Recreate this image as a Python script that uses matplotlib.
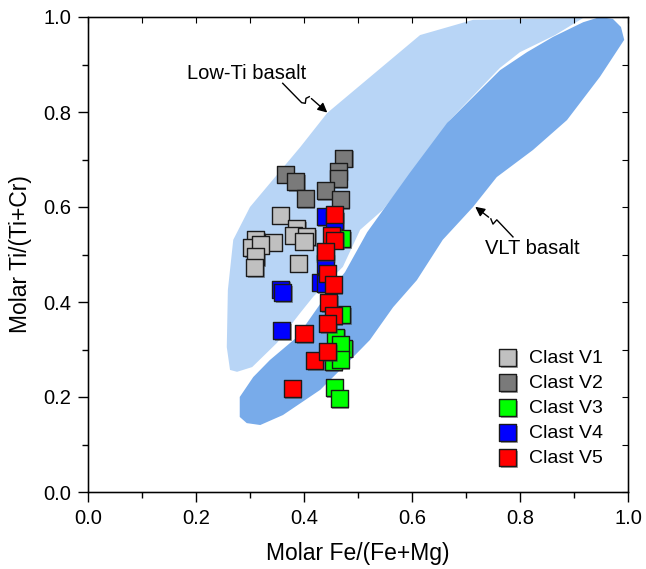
import matplotlib
matplotlib.use('Agg')
import matplotlib.pyplot as plt
import matplotlib.patheffects as pe
from matplotlib.patches import Polygon

plt.rcParams['font.family'] = ['Liberation Sans', 'DejaVu Sans']

# field outlines (Fe/(Fe+Mg), Ti/(Ti+Cr))
low_ti_x = [0.276, 0.263, 0.257, 0.259, 0.269, 0.300, 0.331, 0.393, 0.443, 0.615, 0.713, 0.917,
            0.865, 0.800, 0.763, 0.670, 0.615, 0.546, 0.504, 0.472, 0.417, 0.393, 0.350, 0.304]
low_ti_y = [0.253, 0.257, 0.305, 0.425, 0.531, 0.600, 0.642, 0.726, 0.798, 0.962, 0.994, 0.998,
            0.962, 0.926, 0.893, 0.783, 0.693, 0.594, 0.552, 0.474, 0.411, 0.377, 0.314, 0.263]

vlt_x = [0.281, 0.281, 0.306, 0.337, 0.387, 0.435, 0.476, 0.517, 0.596, 0.665, 0.763, 0.813, 0.861,
         0.917, 0.948, 0.972, 0.987, 0.993, 0.948, 0.887, 0.824, 0.757, 0.713, 0.657, 0.609, 0.565,
         0.522, 0.491, 0.430, 0.361, 0.319, 0.294]
vlt_y = [0.158, 0.200, 0.242, 0.278, 0.326, 0.404, 0.463, 0.547, 0.672, 0.777, 0.888, 0.926, 0.958,
         0.989, 1.000, 0.996, 0.979, 0.952, 0.874, 0.783, 0.720, 0.663, 0.600, 0.531, 0.446, 0.389,
         0.320, 0.284, 0.215, 0.162, 0.141, 0.145]

# clast analyses
v1_x = [0.356, 0.387, 0.380, 0.405, 0.400, 0.343, 0.311, 0.303, 0.319, 0.311, 0.309, 0.389]
v1_y = [0.583, 0.554, 0.541, 0.537, 0.528, 0.526, 0.531, 0.514, 0.520, 0.495, 0.472, 0.482]

v2_x = [0.474, 0.463, 0.463, 0.365, 0.385, 0.402, 0.439, 0.467]
v2_y = [0.703, 0.674, 0.659, 0.669, 0.653, 0.617, 0.634, 0.615]

v3_x = [0.470, 0.470, 0.459, 0.474, 0.467, 0.454, 0.467, 0.456, 0.465]
v3_y = [0.533, 0.373, 0.326, 0.303, 0.310, 0.274, 0.278, 0.219, 0.196]

v4_x = [0.439, 0.457, 0.439, 0.430, 0.439, 0.357, 0.361, 0.359, 0.439]
v4_y = [0.579, 0.572, 0.503, 0.442, 0.438, 0.427, 0.419, 0.339, 0.480]

v5_x = [0.456, 0.451, 0.457, 0.439, 0.443, 0.454, 0.446, 0.454, 0.444, 0.400, 0.420, 0.444, 0.378]
v5_y = [0.585, 0.539, 0.530, 0.506, 0.461, 0.436, 0.398, 0.371, 0.354, 0.333, 0.276, 0.295, 0.217]

clasts = [('Clast V1', v1_x, v1_y, '#c0c0c0'),
          ('Clast V2', v2_x, v2_y, '#7a7a7a'),
          ('Clast V3', v3_x, v3_y, '#00ff00'),
          ('Clast V4', v4_x, v4_y, '#0000ff'),
          ('Clast V5', v5_x, v5_y, '#ff0000')]

fig = plt.figure(figsize=(6.46, 5.69), dpi=100)
ax = fig.add_axes([88/646, 1-492/569, 540/646, 475/569])

ax.add_patch(Polygon(list(zip(low_ti_x, low_ti_y)), closed=True, facecolor='#b8d5f6', edgecolor='none', zorder=1))
ax.add_patch(Polygon(list(zip(vlt_x, vlt_y)), closed=True, facecolor='#78abea', edgecolor='none', zorder=2))

shadow = [pe.SimplePatchShadow(offset=(1.2, -1.2), shadow_rgbFace='#444444', alpha=0.5), pe.Normal()]
for i, (name, xs, ys, col) in enumerate(clasts):
    ax.scatter(xs, ys, marker='s', s=150, facecolor=col, edgecolor='#1a1a1a', linewidth=1.0,
               label=name, zorder=3 + i, path_effects=shadow)

# squiggly leader arrows
ax.plot([0.3606, 0.3957, 0.4024, 0.4037, 0.4098], [0.8604, 0.8196, 0.8183, 0.8288, 0.8322],
        color='black', lw=1.0, zorder=10)
ax.annotate('', xy=(0.447, 0.795), xytext=(0.4098, 0.8322),
            arrowprops=dict(arrowstyle='-|>', color='black', lw=1.0, mutation_scale=14), zorder=10)
ax.text(0.293, 0.882, 'Low-Ti basalt', fontsize=14.5, ha='center', va='center')

ax.plot([0.787, 0.757, 0.750, 0.746], [0.537, 0.573, 0.564, 0.575],
        color='black', lw=1.0, zorder=10)
ax.annotate('', xy=(0.713, 0.604), xytext=(0.746, 0.575),
            arrowprops=dict(arrowstyle='-|>', color='black', lw=1.0, mutation_scale=14), zorder=10)
ax.text(0.822, 0.512, 'VLT basalt', fontsize=14.5, ha='center', va='center')

ax.set_xlim(0, 1)
ax.set_ylim(0, 1)
ax.set_xticks([0.0, 0.2, 0.4, 0.6, 0.8, 1.0])
ax.set_yticks([0.0, 0.2, 0.4, 0.6, 0.8, 1.0])
ax.set_xticks([0.1, 0.3, 0.5, 0.7, 0.9], minor=True)
ax.set_yticks([0.1, 0.3, 0.5, 0.7, 0.9], minor=True)
ax.tick_params(which='major', direction='out', length=7, width=1, labelsize=14.5, pad=5)
ax.tick_params(which='minor', direction='out', length=4, width=1)
for s in ax.spines.values():
    s.set_linewidth(1.0)

# inward ticks on top and right
axr = ax.twinx()
axr.set_ylim(0, 1)
axr.set_yticks([i / 10 for i in range(11)])
axr.tick_params(direction='in', length=4, labelright=False)
axt = ax.twiny()
axt.set_xlim(0, 1)
axt.set_xticks([i / 10 for i in range(11)])
axt.tick_params(direction='in', length=4, labeltop=False)

ax.set_xlabel('Molar Fe/(Fe+Mg)', fontsize=16.5, labelpad=10)
ax.set_ylabel('Molar Ti/(Ti+Cr)', fontsize=16.5, labelpad=8)

ax.legend(loc='lower right', bbox_to_anchor=(0.99, 0.012), frameon=False, fontsize=14,
          handletextpad=0.1, labelspacing=0.38, markerscale=1.0, borderaxespad=0.6)

fig.savefig('out.png', dpi=100)
